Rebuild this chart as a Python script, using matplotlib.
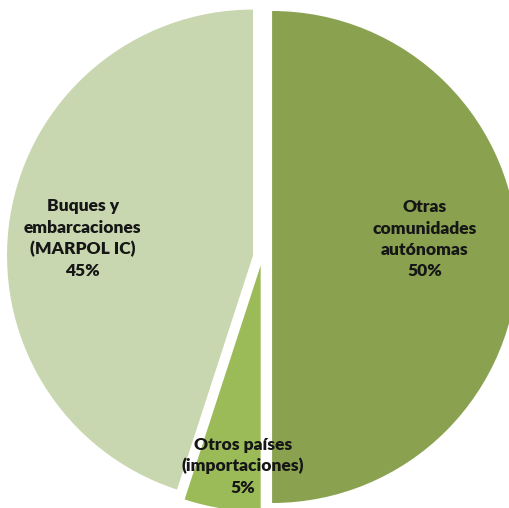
import matplotlib.pyplot as plt

# Datos del gráfico
categorias = ['Otras\ncomunidades\nautónomas', 'Otros países\n(importaciones)', 'Buques y\nembarcaciones\n(MARPOL IC)']
porcentajes = [50, 5, 45]
colores = ['#8aa250', '#9bbb59', '#c9d7b0']
separacion = [0.041, 0.035, 0.037]

# posiciones de las etiquetas (en unidades del radio)
pos_etiquetas = [(0.663, 0.072), (-0.077, -0.85), (-0.728, 0.075)]

fig = plt.figure(figsize=(5.09, 5.08), dpi=100)
ax = fig.add_axes([0, 0, 1, 1])

ax.pie(porcentajes, colors=colores, explode=separacion, startangle=90,
       counterclock=False, radius=1.0, wedgeprops={'linewidth': 0})

for cat, val, (x, y) in zip(categorias, porcentajes, pos_etiquetas):
    ax.text(x, y, f'{cat}\n{val}%', ha='center', va='center', fontsize=12.5,
            fontweight='heavy', family='Lato', color='#161616', linespacing=1.4)

ax.set_xlim(-262 / 246, 247 / 246)
ax.set_ylim(-251 / 246, 257 / 246)
ax.set_aspect('equal', adjustable='box')
ax.axis('off')

fig.savefig('out.png', dpi=100, facecolor='white')
